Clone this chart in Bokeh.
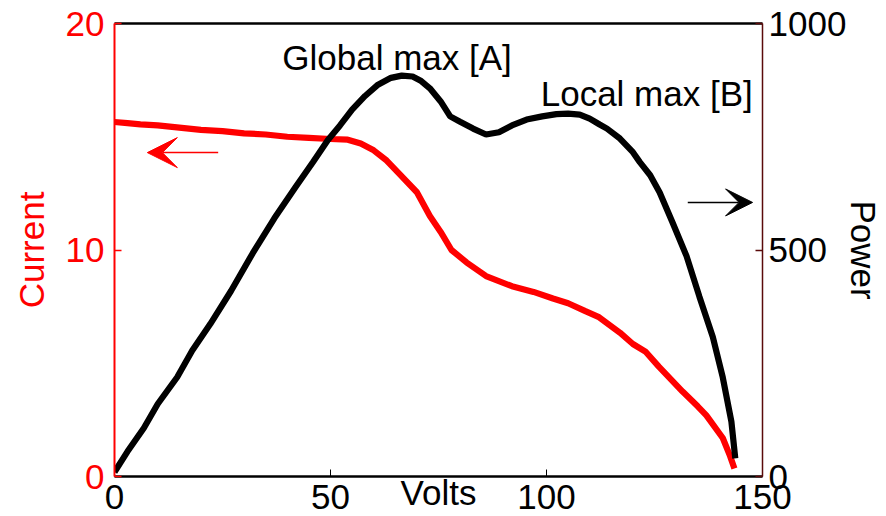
from bokeh.plotting import figure
from bokeh.models import Range1d, LinearAxis, FixedTicker, Label, Arrow, VeeHead
from bokeh.embed import file_html
from bokeh.resources import INLINE

# ---- data ----
volts_i = [0, 3, 6, 10, 15, 20, 25, 30, 35, 40, 45, 50, 54, 57, 60, 63, 66, 70,
           73, 75.5, 78, 81.5, 86, 92, 97, 101.5, 105, 109, 112, 117, 120, 123,
           126, 131.5, 135, 137, 140.8, 142.5, 143.5]
current = [15.65, 15.6, 15.55, 15.5, 15.4, 15.3, 15.25, 15.15, 15.1, 15.0, 14.95,
           14.9, 14.87, 14.7, 14.4, 13.95, 13.35, 12.55, 11.5, 10.8, 10.0, 9.45,
           8.85, 8.4, 8.15, 7.86, 7.65, 7.3, 7.05, 6.35, 5.85, 5.5, 4.85, 3.75,
           3.1, 2.7, 1.7, 0.9, 0.35]

volts_p = [0, 3, 6.8, 10, 14.5, 18, 22.2, 27, 32, 37, 42, 46, 49.4, 52.2, 55, 58,
           61, 64, 66.5, 69, 71, 73, 75.5, 77.7, 80, 83, 86, 89, 92, 95.4, 99,
           102.3, 105, 107.7, 110, 112.3, 114, 117, 120, 121.6, 124, 126.2,
           129.2, 132.4, 135.4, 138.5, 140.8, 142.8, 143.7]
power = [10, 55, 107, 160, 219, 278, 337, 410, 493, 570, 640, 695, 743, 775, 810,
         840, 865, 880, 885, 883, 873, 857, 828, 795, 783, 768, 755, 760, 775,
         788, 795, 800, 801, 799, 790, 777, 768, 746, 716, 694, 665, 627, 560,
         487, 397, 308, 219, 121, 40]

x_ticks = [0, 50, 100, 150]
current_ticks = [0, 10, 20]
power_ticks = [0, 500, 1000]

FONT = "Liberation Sans"
FS = "35px"
DARK_RED = "#5a0a0a"

W, H = 886, 516
FRAME_L, FRAME_R, FRAME_T = 114, 763, 23

p = figure(width=W, height=H, output_backend="svg", toolbar_location=None,
           x_range=Range1d(0, 150), y_range=Range1d(0, 20),
           min_border_left=FRAME_L, min_border_right=W - FRAME_R,
           min_border_top=FRAME_T, min_border_bottom=40)
p.xgrid.visible = False
p.ygrid.visible = False
p.outline_line_color = None
p.background_fill_color = "white"
p.border_fill_color = "white"
p.extra_y_ranges = {"power": Range1d(0, 1000)}


def style_axis(ax, color, label_color, line_width):
    ax.axis_line_color = color
    ax.axis_line_width = line_width
    ax.major_tick_line_color = color
    ax.major_tick_line_width = 1.5
    ax.major_tick_in = 7
    ax.major_tick_out = 0
    ax.minor_tick_line_color = None
    ax.major_label_text_color = label_color
    ax.major_label_text_font = FONT
    ax.major_label_text_font_size = FS
    ax.axis_label_text_color = label_color
    ax.axis_label_text_font = FONT
    ax.axis_label_text_font_size = FS
    ax.axis_label_text_font_style = "normal"


# bottom axis: tick numbers and the "Volts" title share one row
xa = p.xaxis[0]
xa.ticker = FixedTicker(ticks=x_ticks)
style_axis(xa, "black", "black", 2.5)
xa.major_tick_line_width = 1
xa.major_label_standoff = 8
xa.axis_label = "Volts"
xa.axis_label_standoff = -39

# left axis (current)
ya = p.yaxis[0]
ya.ticker = FixedTicker(ticks=current_ticks)
style_axis(ya, "red", "red", 2)
ya.major_label_standoff = 10
ya.axis_label = "Current"
ya.axis_label_standoff = 12

# right axis (power)
ra = LinearAxis(y_range_name="power", ticker=FixedTicker(ticks=power_ticks))
style_axis(ra, DARK_RED, "black", 1.5)
ra.major_label_standoff = 6
ra.axis_label = "Power"
ra.axis_label_standoff = -5
ra.axis_label_orientation = "vertical"
p.add_layout(ra, "right")

# top border
ta = LinearAxis(ticker=FixedTicker(ticks=[]))
ta.axis_line_color = "black"
ta.axis_line_width = 2.5
ta.major_tick_out = 0
ta.major_tick_in = 0
ta.minor_tick_line_color = None
ta.major_label_standoff = 0
ta.major_label_text_font_size = "0px"
p.add_layout(ta, "above")

# curves
p.line(volts_i, current, line_color="red", line_width=6.2)
p.line(volts_p, power, line_color="black", line_width=6.2, y_range_name="power")

# annotations
p.add_layout(Label(x=65.4, y=18.48, text="Global max [A]", text_align="center",
                   text_baseline="alphabetic", text_font=FONT, text_font_size=FS,
                   text_color="black"))
p.add_layout(Label(x=123.2, y=16.92, text="Local max [B]", text_align="center",
                   text_baseline="alphabetic", text_font=FONT, text_font_size=FS,
                   text_color="black"))

p.add_layout(Arrow(end=VeeHead(size=30, fill_color="red", line_color="red", line_width=1),
                   x_start=24, y_start=14.3, x_end=7.6, y_end=14.3,
                   line_color="red", line_width=1.5))
p.add_layout(Arrow(end=VeeHead(size=27, fill_color="black", line_color="black", line_width=1),
                   x_start=132.7, y_start=605, x_end=147.7, y_end=605,
                   y_range_name="power", line_color="black", line_width=1.5))

open("out.html", "w").write(file_html(p, INLINE))
